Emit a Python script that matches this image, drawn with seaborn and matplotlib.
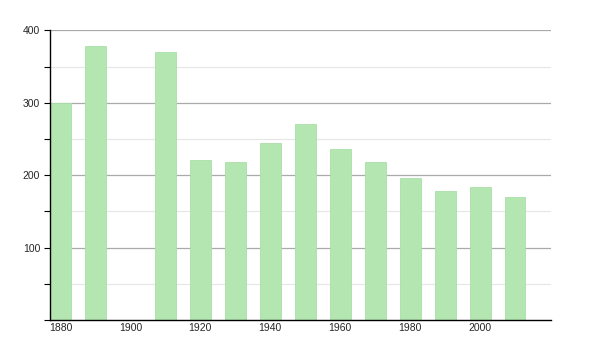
import matplotlib
matplotlib.use("Agg")
import matplotlib.pyplot as plt
import seaborn as sns
import pandas as pd
from matplotlib.ticker import MultipleLocator

years = [1880, 1890, 1910, 1920, 1930, 1940, 1950, 1960, 1970, 1980, 1990, 2000, 2010]
population = [300, 379, 370, 221, 218, 245, 271, 236, 218, 196, 178, 184, 170]
x_ticks = [1880, 1900, 1920, 1940, 1960, 1980, 2000]
y_ticks = [100, 200, 300, 400]

df = pd.DataFrame({"year": years, "pop": population})

sns.set_theme(style="white")
plt.rcParams['font.family'] = ['Liberation Sans', 'DejaVu Sans']

fig = plt.figure(figsize=(6, 3.5), dpi=100)
ax = fig.add_axes([50/600, 1-320/350, (551-50)/600, (320-30.3)/350])

sns.barplot(data=df, x="year", y="pop", native_scale=True, width=0.6,
            color="#b3e6b1", saturation=1, edgecolor="#a9dea6", linewidth=0.6,
            ax=ax, zorder=3)

ax.set_xlim(1877, 2020.3)
ax.set_ylim(0, 400)
ax.set_xticks(x_ticks)
ax.set_xticklabels([str(t) for t in x_ticks])
ax.set_yticks(y_ticks)
ax.set_yticklabels([str(t) for t in y_ticks])
ax.yaxis.set_minor_locator(MultipleLocator(50))
ax.grid(axis="y", which="major", color="#aaaaaa", linewidth=0.9, zorder=1)
ax.grid(axis="y", which="minor", color="#e6e6e6", linewidth=0.8, zorder=1)
ax.set_xlabel("")
ax.set_ylabel("")

for s in ["top", "right"]:
    ax.spines[s].set_visible(False)
for s in ["left", "bottom"]:
    ax.spines[s].set_color("black")
    ax.spines[s].set_linewidth(1.0)
    ax.spines[s].set_zorder(5)

ax.tick_params(axis="y", which="both", left=True, length=4, width=0.8, color="black",
               labelsize=7.5, pad=3)
ax.tick_params(axis="x", which="both", bottom=False, length=0, labelsize=7.5, pad=2.5)

fig.savefig("out.png", dpi=100)
